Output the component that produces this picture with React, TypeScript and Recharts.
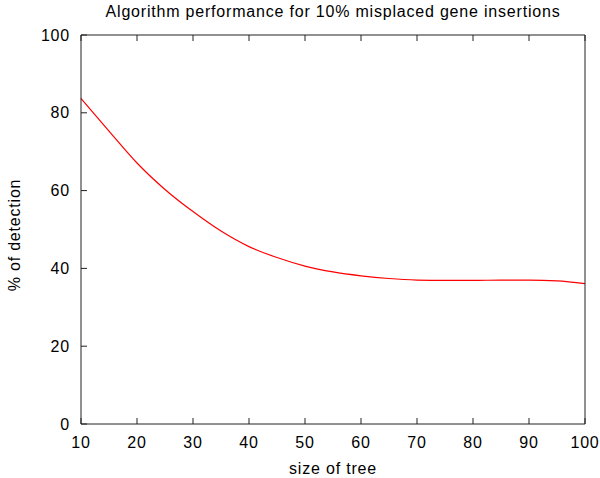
import React from 'react';
import { LineChart, Line, XAxis, YAxis } from 'recharts';

const treeSizes = [10, 15, 20, 25, 30, 35, 40, 45, 50, 55, 60, 65, 70, 75, 80, 85, 90, 95, 100];
const detection = [83.7, 75.3, 67.1, 60.3, 54.6, 49.6, 45.6, 42.8, 40.6, 39.1, 38.1, 37.4, 37.0, 36.9, 36.9, 37.0, 37.0, 36.8, 36.1];
const xTicks = [10, 20, 30, 40, 50, 60, 70, 80, 90, 100];
const yTicks = [0, 20, 40, 60, 80, 100];
const title = 'Algorithm performance for 10% misplaced gene insertions';
const xLabel = 'size of tree';
const yLabel = '% of detection';

const data = treeSizes.map((x, i) => ({ x, y: detection[i] }));

const FONT = 'Liberation Sans, Arial, Helvetica, sans-serif';
const AXIS = '#222';
const FS = 16;
const LS = 0.8;
const TICK = 6;

const BottomTick = (props: any) => {
  const { x, y, payload } = props;
  return (
    <g>
      <line x1={x} y1={y} x2={x} y2={y - TICK} stroke={AXIS} />
      <text x={x} y={y + 18} textAnchor="middle" dominantBaseline="central" fontSize={FS} fontFamily={FONT} letterSpacing={LS} fill="#000">
        {payload.value}
      </text>
    </g>
  );
};

const LeftTick = (props: any) => {
  const { x, y, payload } = props;
  return (
    <g>
      <line x1={x} y1={y} x2={x + TICK} y2={y} stroke={AXIS} />
      <text x={x - 11} y={y} textAnchor="end" dominantBaseline="central" fontSize={FS} fontFamily={FONT} letterSpacing={LS} fill="#000">
        {payload.value}
      </text>
    </g>
  );
};

const TopTick = (props: any) => {
  const { x, y } = props;
  return <line x1={x} y1={y} x2={x} y2={y + TICK} stroke={AXIS} />;
};

const RightTick = (props: any) => {
  const { x, y } = props;
  return <line x1={x} y1={y} x2={x - TICK} y2={y} stroke={AXIS} />;
};

export default function App() {
  return (
    <div style={{ position: 'absolute', left: 0, top: 0, width: 600, height: 478, background: '#fff' }}>
      <LineChart width={600} height={478} data={data} margin={{ top: 34, right: 14, bottom: 0, left: 0 }}>
        <XAxis
          xAxisId="b"
          dataKey="x"
          type="number"
          domain={[10, 100]}
          ticks={xTicks}
          height={54}
          tickSize={0}
          tickMargin={0}
          tickLine={false}
          stroke={AXIS}
          tick={<BottomTick />}
        />
        <XAxis
          xAxisId="t"
          orientation="top"
          dataKey="x"
          type="number"
          domain={[10, 100]}
          ticks={xTicks}
          height={1}
          tickSize={0}
          tickMargin={0}
          tickLine={false}
          stroke={AXIS}
          tick={<TopTick />}
        />
        <YAxis
          yAxisId="l"
          type="number"
          domain={[0, 100]}
          ticks={yTicks}
          width={81}
          tickSize={0}
          tickMargin={0}
          tickLine={false}
          stroke={AXIS}
          tick={<LeftTick />}
        />
        <YAxis
          yAxisId="r"
          orientation="right"
          type="number"
          domain={[0, 100]}
          ticks={yTicks}
          width={1}
          tickSize={0}
          tickMargin={0}
          tickLine={false}
          stroke={AXIS}
          tick={<RightTick />}
        />
        <Line
          xAxisId="b"
          yAxisId="l"
          dataKey="y"
          type="monotone"
          stroke="#ff0000"
          strokeWidth={1.2}
          dot={false}
          isAnimationActive={false}
        />
        <text x={333} y={11} textAnchor="middle" dominantBaseline="central" fontSize={FS} fontFamily={FONT} letterSpacing={LS} fill="#000">
          {title}
        </text>
        <text x={333} y={468} textAnchor="middle" dominantBaseline="central" fontSize={FS} fontFamily={FONT} letterSpacing={LS} fill="#000">
          {xLabel}
        </text>
        <text x={14} y={235} transform="rotate(-90 14 235)" textAnchor="middle" dominantBaseline="central" fontSize={FS} fontFamily={FONT} letterSpacing={LS} fill="#000">
          {yLabel}
        </text>
      </LineChart>
    </div>
  );
}
